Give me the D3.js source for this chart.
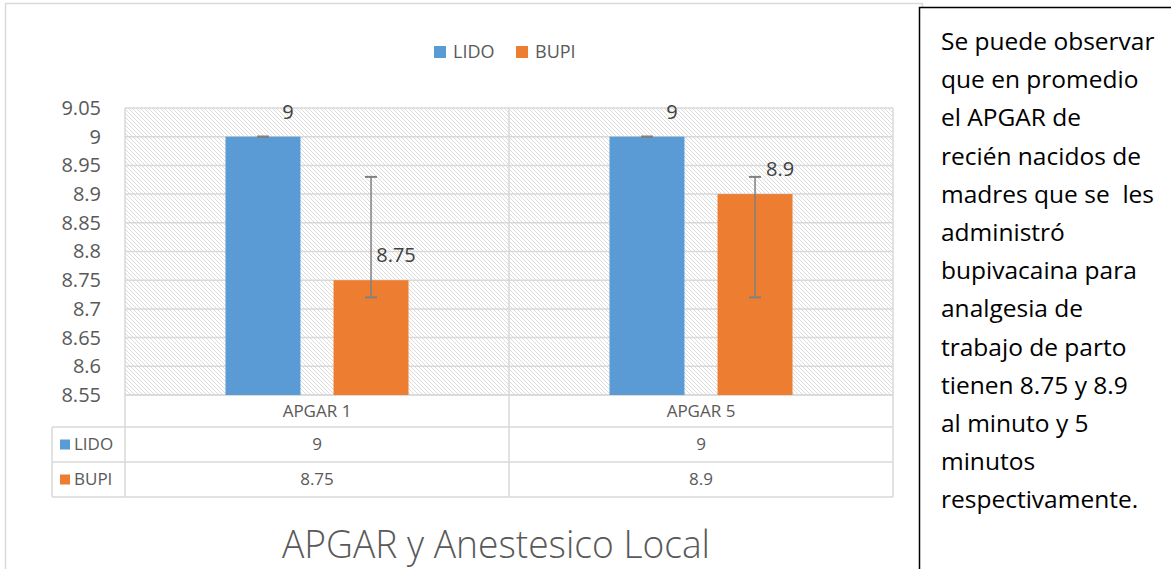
<!DOCTYPE html>
<html>
<head>
<meta charset="utf-8">
<script src="https://cdn.jsdelivr.net/npm/d3@7"></script>
<style>
  body { margin: 0; background: #fff; }
  text { font-family: "Open Sans", sans-serif; }
</style>
</head>
<body>
<div id="chart"></div>
<script>
// data
var categories = ["APGAR 1", "APGAR 5"];
var seriesNames = ["LIDO", "BUPI"];
var lidoValues = [9, 9];
var bupiValues = [8.75, 8.9];
var lidoErrPlus = [0, 0];
var lidoErrMinus = [0, 0];
var bupiErrPlus = [0.18, 0.03];
var bupiErrMinus = [0.03, 0.18];
var yTicks = [8.55, 8.6, 8.65, 8.7, 8.75, 8.8, 8.85, 8.9, 8.95, 9, 9.05];
var titleText = "APGAR y Anestesico Local";
var noteLines = ["Se puede observar", "que en promedio", "el APGAR de",
  "recién nacidos de", "madres que se  les", "administró",
  "bupivacaina para", "analgesia de", "trabajo de parto",
  "tienen 8.75 y 8.9", "al minuto y 5", "minutos", "respectivamente."];

var colors = ["#5b9bd5", "#ed7d31"];
var values = [lidoValues, bupiValues];
var errPlus = [lidoErrPlus, bupiErrPlus];
var errMinus = [lidoErrMinus, bupiErrMinus];

var svgWidth = 1171, svgHeight = 569;
var plot = { left: 125, right: 893, top: 108, bottom: 395 };
var grid = "#d9d9d9";

var svg = d3.select("#chart").append("svg")
  .attr("width", svgWidth)
  .attr("height", svgHeight);

// hatch pattern for plot area
var defs = svg.append("defs");
var pat = defs.append("pattern")
  .attr("id", "hatch")
  .attr("patternUnits", "userSpaceOnUse")
  .attr("width", 4).attr("height", 4);
pat.append("path")
  .attr("d", "M-1,-1 L5,5 M-1,3 L1,5 M3,-1 L5,1")
  .attr("stroke", "#dcdcdc")
  .attr("stroke-width", 1);

// chart outer border
svg.append("rect")
  .attr("x", 5.5).attr("y", 3.5)
  .attr("width", 917).attr("height", 600)
  .attr("fill", "#fff")
  .attr("stroke", grid)
  .attr("stroke-width", 1.5);

// scales
var y = d3.scaleLinear().domain([8.55, 9.05]).range([plot.bottom, plot.top]);
var x0 = d3.scaleBand().domain(categories).range([plot.left, plot.right]);
var x1 = d3.scaleBand().domain(seriesNames).range([0, x0.bandwidth()])
  .paddingInner(0.306).paddingOuter(0.93);

svg.append("rect")
  .attr("x", plot.left).attr("y", plot.top)
  .attr("width", plot.right - plot.left).attr("height", plot.bottom - plot.top)
  .attr("fill", "url(#hatch)");

// gridlines
svg.append("g").selectAll("line")
  .data(yTicks)
  .enter().append("line")
  .attr("x1", plot.left).attr("x2", plot.right)
  .attr("y1", d => y(d)).attr("y2", d => y(d))
  .attr("stroke", grid).attr("stroke-width", 1.5);

// y axis labels
var leftAxis = d3.axisLeft(y).tickValues(yTicks).tickSize(0).tickPadding(24)
  .tickFormat(d3.format("~g"));
var yAxis = svg.append("g")
  .attr("transform", `translate(${plot.left}, 0)`)
  .call(leftAxis);
yAxis.select(".domain").remove();
yAxis.selectAll("text")
  .attr("font-size", "20px")
  .attr("fill", "#595959")
  .attr("font-family", "Open Sans");

// table geometry
var tableLeft = 52;
var rowLines = [plot.bottom, 427, 462, 497];

// vertical lines: plot edges, category divider, table
var vlines = [
  { x: plot.left, y1: plot.top, y2: rowLines[3] },
  { x: x0(categories[1]), y1: plot.top, y2: rowLines[3] },
  { x: plot.right, y1: plot.top, y2: rowLines[3] },
  { x: tableLeft, y1: rowLines[1], y2: rowLines[3] }
];
svg.append("g").selectAll("line")
  .data(vlines)
  .enter().append("line")
  .attr("x1", d => d.x).attr("x2", d => d.x)
  .attr("y1", d => d.y1).attr("y2", d => d.y2)
  .attr("stroke", grid).attr("stroke-width", 1.5);

svg.append("g").selectAll("line")
  .data(rowLines)
  .enter().append("line")
  .attr("x1", (d, i) => i < 1 ? plot.left : tableLeft)
  .attr("x2", plot.right)
  .attr("y1", d => d).attr("y2", d => d)
  .attr("stroke", grid).attr("stroke-width", 1.5);

// bars
var groups = svg.append("g").selectAll("g")
  .data(seriesNames)
  .enter().append("g");

groups.each(function (name, si) {
  var g = d3.select(this);
  g.selectAll("rect")
    .data(categories)
    .enter().append("rect")
    .attr("x", c => x0(c) + x1(name))
    .attr("y", (c, ci) => y(values[si][ci]))
    .attr("width", x1.bandwidth())
    .attr("height", (c, ci) => y(8.55) - y(values[si][ci]))
    .attr("fill", colors[si]);
});

// error bars
groups.each(function (name, si) {
  var g = d3.select(this);
  categories.forEach(function (c, ci) {
    var cx = x0(c) + x1(name) + x1.bandwidth() / 2;
    var v = values[si][ci];
    var top = y(v + errPlus[si][ci]);
    var bot = y(v - errMinus[si][ci]);
    g.append("line")
      .attr("x1", cx).attr("x2", cx).attr("y1", top).attr("y2", bot)
      .attr("stroke", "#808080").attr("stroke-width", 1.5);
    [top, bot].forEach(function (yy) {
      g.append("line")
        .attr("x1", cx - 6).attr("x2", cx + 6).attr("y1", yy).attr("y2", yy)
        .attr("stroke", "#808080").attr("stroke-width", 2);
    });
  });
});

// data labels
groups.each(function (name, si) {
  d3.select(this).selectAll("text.lbl")
    .data(categories)
    .enter().append("text")
    .attr("class", "lbl")
    .attr("x", c => x0(c) + x1(name) + x1.bandwidth() / 2 + 25)
    .attr("y", (c, ci) => y(values[si][ci]) - 18)
    .attr("text-anchor", "middle")
    .attr("font-size", "20px")
    .attr("fill", "#404040")
    .text((c, ci) => values[si][ci]);
});

// table: category row
svg.append("g").selectAll("text")
  .data(categories)
  .enter().append("text")
  .attr("x", c => x0(c) + x0.bandwidth() / 2)
  .attr("y", (rowLines[0] + rowLines[1]) / 2)
  .attr("dy", "0.35em")
  .attr("text-anchor", "middle")
  .attr("font-size", "17px")
  .attr("fill", "#595959")
  .text(c => c);

// table: series rows
seriesNames.forEach(function (name, si) {
  var cy = (rowLines[si + 1] + rowLines[si + 2]) / 2;
  svg.append("rect")
    .attr("x", 60).attr("y", cy - 5)
    .attr("width", 10).attr("height", 10)
    .attr("fill", colors[si]);
  svg.append("text")
    .attr("x", 74).attr("y", cy).attr("dy", "0.35em")
    .attr("font-size", "17px").attr("fill", "#595959")
    .text(name);
  svg.append("g").selectAll("text")
    .data(categories)
    .enter().append("text")
    .attr("x", c => x0(c) + x0.bandwidth() / 2)
    .attr("y", cy).attr("dy", "0.35em")
    .attr("text-anchor", "middle")
    .attr("font-size", "17px")
    .attr("fill", "#595959")
    .text((c, ci) => values[si][ci]);
});

// legend
var legendX = [434, 516];
seriesNames.forEach(function (name, si) {
  svg.append("rect")
    .attr("x", legendX[si]).attr("y", 46)
    .attr("width", 12).attr("height", 12)
    .attr("fill", colors[si]);
  svg.append("text")
    .attr("x", legendX[si] + 19).attr("y", 52).attr("dy", "0.35em")
    .attr("font-size", "18px").attr("fill", "#595959")
    .text(name);
});

// title
svg.append("text")
  .attr("x", 496).attr("y", 558)
  .attr("text-anchor", "middle")
  .attr("font-size", "39px")
  .attr("font-weight", 300)
  .attr("fill", "#595959")
  .attr("textLength", 428)
  .attr("lengthAdjust", "spacingAndGlyphs")
  .text(titleText);

// note box on the right
svg.append("rect")
  .attr("x", 919.5).attr("y", 7.5)
  .attr("width", 300).attr("height", 600)
  .attr("fill", "#fff")
  .attr("stroke", "#000")
  .attr("stroke-width", 1.5);

svg.append("g").selectAll("text")
  .data(noteLines)
  .enter().append("text")
  .attr("x", 941)
  .attr("y", (d, i) => 50 + i * 38.2)
  .attr("font-size", "24.5px")
  .attr("fill", "#000")
  .attr("xml:space", "preserve")
  .style("white-space", "pre")
  .text(d => d);
</script>
</body>
</html>
